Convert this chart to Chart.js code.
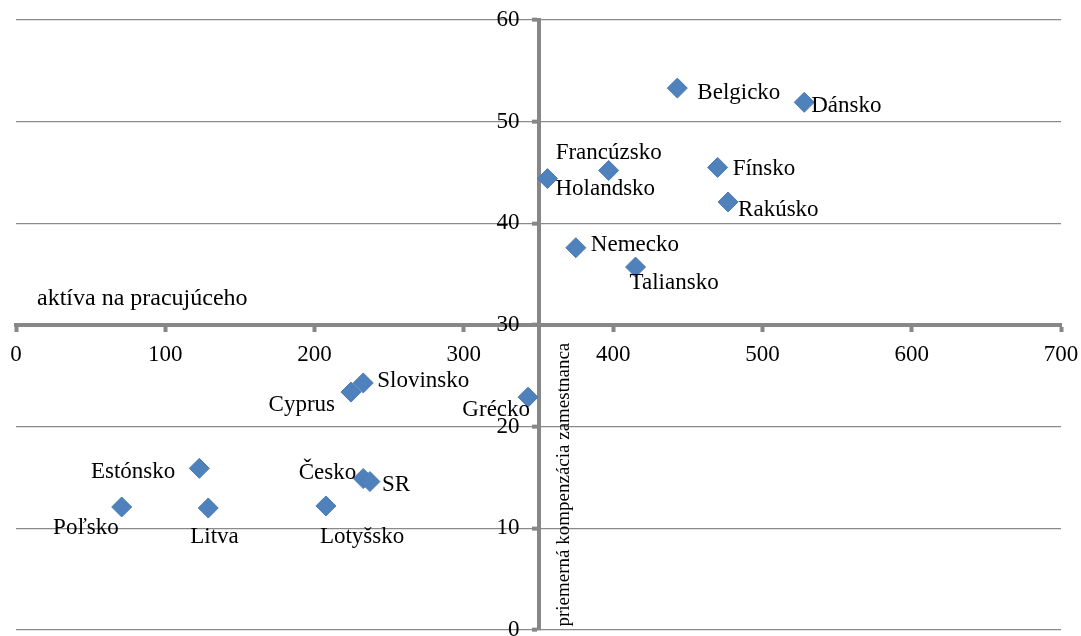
<!DOCTYPE html>
<html>
<head>
<meta charset="utf-8">
<script src="https://cdn.jsdelivr.net/npm/chart.js@4.4.1/dist/chart.umd.min.js"></script>
<style>
  html, body { margin: 0; padding: 0; background: #fff; }
  #wrap { width: 1081px; height: 636px; }
</style>
</head>
<body>
<div id="wrap"><canvas id="myChart"></canvas></div>
<script>
var countries = ["Belgicko", "Dánsko", "Francúzsko", "Holandsko", "Fínsko", "Rakúsko",
  "Nemecko", "Taliansko", "Slovinsko", "Cyprus", "Grécko", "Estónsko", "Poľsko",
  "Litva", "Lotyšsko", "Česko", "SR"];
var assets = [443, 528, 397, 356, 470, 477, 375, 415, 232.6, 224.4, 343, 122.8, 70.8, 128.8, 207.6, 232.6, 237.1];
var compensation = [53.3, 51.9, 45.2, 44.4, 45.5, 42.1, 37.6, 35.7, 24.3, 23.4, 22.9, 15.9, 12.1, 12.0, 12.2, 14.9, 14.6];
var xTitle = "aktíva na pracujúceho";
var yTitle = "priemerná kompenzácia zamestnanca";

var FONT = "'Liberation Serif', 'Times New Roman', serif";
var AXIS = "#878787";

// where each name sits next to its point: [dx, dy, align]
var labelPlace = {
  "Belgicko": [20, 5, "left"], "Dánsko": [7, 4, "left"], "Francúzsko": [-53, -18, "left"],
  "Holandsko": [8, 10, "left"], "Fínsko": [15, 2, "left"], "Rakúsko": [10, 8, "left"],
  "Nemecko": [15, -3, "left"], "Taliansko": [-6, 16, "left"], "Slovinsko": [14, -2, "left"],
  "Cyprus": [-16, 13, "right"], "Grécko": [2, 13, "right"], "Estónsko": [-24, 4, "right"],
  "Poľsko": [-3, 21, "right"], "Litva": [-18, 29, "left"], "Lotyšsko": [-6, 31, "left"],
  "Česko": [-7, -6, "right"], "SR": [12, 3, "left"]
};

var points = assets.map(function (a, i) { return { x: a, y: compensation[i] }; });

// centred y axis ignores ticks.padding, so push its labels left by hand
var yLabelGap = {
  id: "yLabelGap",
  beforeDraw: function (chart) {
    var items = chart.scales.y.getLabelItems();
    items.forEach(function (it) {
      if (!it._moved) { it.options.translation[0] -= 19; it._moved = true; }
    });
  }
};

var pointLabels = {
  id: "pointLabels",
  afterDatasetsDraw: function (chart) {
    var ctx = chart.ctx;
    var meta = chart.getDatasetMeta(0);
    ctx.save();
    ctx.font = "23px " + FONT;
    ctx.fillStyle = "#000";
    ctx.textBaseline = "middle";
    meta.data.forEach(function (pt, i) {
      var p = labelPlace[countries[i]] || [12, 0, "left"];
      ctx.textAlign = p[2];
      ctx.fillText(countries[i], pt.x + p[0], pt.y + p[1]);
    });
    ctx.restore();
  }
};

var axisTitles = {
  id: "axisTitles",
  afterDraw: function (chart) {
    var ctx = chart.ctx;
    var xs = chart.scales.x, ys = chart.scales.y;
    ctx.save();
    ctx.fillStyle = "#000";
    ctx.textBaseline = "middle";
    ctx.textAlign = "left";
    ctx.font = "24px " + FONT;
    ctx.fillText(xTitle, xs.left + 21, ys.getPixelForValue(30) - 26);
    ctx.font = "19px " + FONT;
    ctx.translate(xs.getPixelForValue(350) + 26, ys.getPixelForValue(14.3));
    ctx.rotate(-Math.PI / 2);
    ctx.textAlign = "center";
    ctx.fillText(yTitle, 0, 0);
    ctx.restore();
  }
};

Chart.defaults.font.family = FONT;
Chart.defaults.font.size = 23;
Chart.defaults.color = "#000";

new Chart("myChart", {
  type: "scatter",
  data: {
    datasets: [{
      data: points,
      pointStyle: "rectRot",
      pointRadius: 10,
      pointHoverRadius: 10,
      backgroundColor: "#4f81bd",
      borderColor: "#4a7ab3",
      borderWidth: 1
    }]
  },
  options: {
    responsive: true,
    maintainAspectRatio: false,
    animation: false,
    layout: { autoPadding: false, padding: { left: 16, right: 20, top: 20, bottom: 6 } },
    plugins: {
      legend: { display: false },
      tooltip: { enabled: false }
    },
    scales: {
      x: {
        type: "linear",
        position: { y: 30 },
        min: 0,
        max: 700,
        ticks: { stepSize: 100, padding: 11 },
        grid: { drawOnChartArea: false, drawTicks: true, tickLength: 5, tickWidth: 4, tickColor: AXIS },
        border: { display: true, color: AXIS, width: 4 },
        afterFit: function (s) { s.paddingLeft = 0; s.paddingRight = 0; }
      },
      y: {
        type: "linear",
        position: { x: 350 },
        min: 0,
        max: 60,
        ticks: { stepSize: 10 },
        grid: { color: "#8a8a8a", lineWidth: 1.3, drawTicks: true, tickLength: 5, tickWidth: 4, tickColor: AXIS },
        border: { display: true, color: AXIS, width: 4 },
        afterFit: function (s) { s.paddingTop = 0; s.paddingBottom = 0; }
      }
    }
  },
  plugins: [yLabelGap, pointLabels, axisTitles]
});
</script>
</body>
</html>
